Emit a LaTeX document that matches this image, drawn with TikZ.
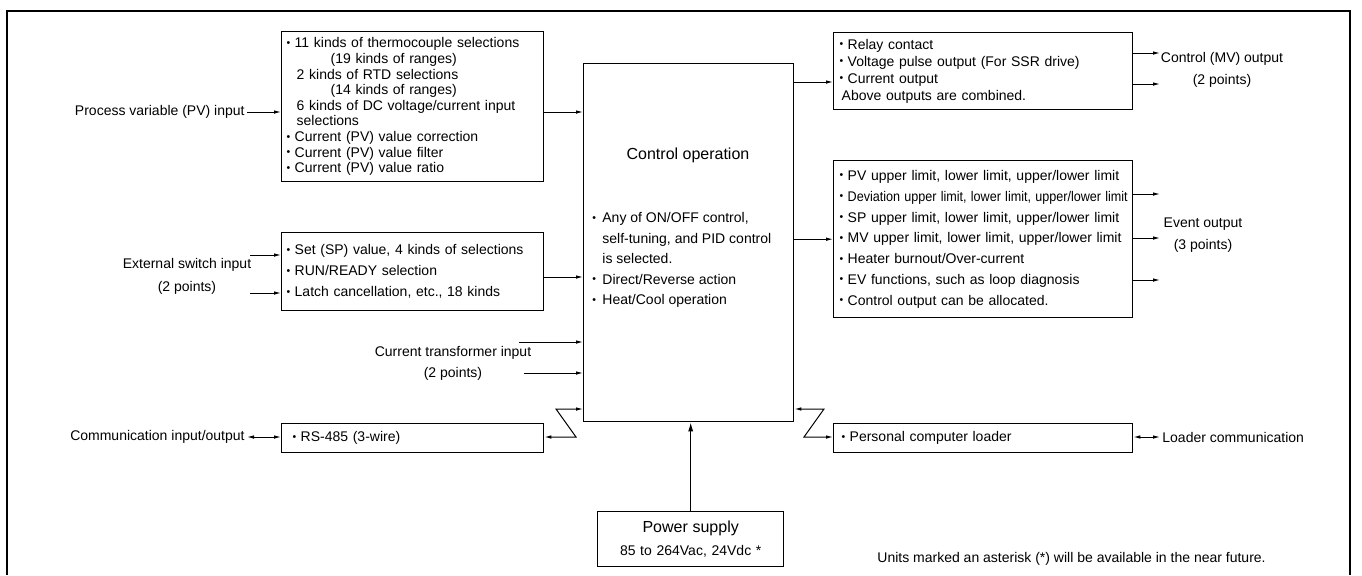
\documentclass[tikz,border=0pt]{standalone}
\usepackage{fontspec}
\usepackage{graphicx}
\setmainfont{Liberation Sans}
\usetikzlibrary{arrows.meta}
\newcommand{\itm}{\makebox[4pt][l]{\raisebox{0.2ex}{\scalebox{0.75}{\textbullet}}}}
\newcommand{\citm}{\makebox[5pt][l]{\raisebox{0.2ex}{\scalebox{0.75}{\textbullet}}}}
\begin{document}
\begin{tikzpicture}[x=0.5pt,y=-0.5pt,
	every node/.style={font=\fontsize{7}{8}\selectfont},
	blk/.style={draw,line width=0.7pt,anchor=north west,inner xsep=2.5pt,inner ysep=0pt,align=left},
	arr/.style={-{Latex[length=3.5pt,width=1.8pt]},line width=0.5pt},
	darr/.style={{Latex[length=3.5pt,width=1.8pt]}-{Latex[length=3.5pt,width=1.8pt]},line width=0.5pt}]
	\useasboundingbox (0,0) rectangle (1362,575);
	%\draw[very thin,color=gray] (0,0) grid[step=50] (1362,575);
	\draw[line width=0.6pt] (7,575) -- (7,11) -- (1350,11) -- (1350,575);
	% input side
	\node[blk,text width=126pt,minimum height=75pt,font=\fontsize{7}{7.8}\selectfont] (pvbox) at (281,31)
		{\itm 11 kinds of thermocouple selections\\
		\hspace*{22pt}(19 kinds of ranges)\\
		\hspace*{5pt}2 kinds of RTD selections\\
		\hspace*{22pt}(14 kinds of ranges)\\
		\hspace*{5pt}6 kinds of DC voltage/current input\\
		\hspace*{5pt}selections\\
		\itm Current (PV) value correction\\
		\itm Current (PV) value filter\\
		\itm Current (PV) value ratio};
	\node[blk,text width=126pt,minimum height=39pt,font=\fontsize{7}{10.5}\selectfont] (swbox) at (281,232)
		{\itm Set (SP) value, 4 kinds of selections\\
		\itm RUN/READY selection\\
		\itm Latch cancellation, etc., 18 kinds};
	\node[blk,inner xsep=5.5pt,text width=120pt,minimum height=14.5pt] (rsbox) at (281,423) {\itm RS-485 (3-wire)};
	\node[anchor=east,inner sep=1pt] (pvin) at (247,112) {Process variable (PV) input};
	\node[align=center,font=\fontsize{7}{11.5}\selectfont] (swin) at (187,276) {External switch input\\(2 points)};
	\node[align=center,font=\fontsize{7}{10.5}\selectfont] (ctin) at (453,363) {Current transformer input\\(2 points)};
	\node[anchor=east,inner sep=1pt] (comm) at (247,437) {Communication input/output};
	% control
	\node[draw,line width=0.7pt,anchor=north west,minimum width=105pt,minimum height=179pt,inner sep=0pt] (ctrl) at (583,63) {};
	\node[font=\fontsize{8}{9}\selectfont] (ctrltitle) at (688,155) {Control operation};
	\node[anchor=north west,align=left,inner sep=0pt,font=\fontsize{7}{10.25}\selectfont] (ctrltext) at (592,212)
		{\citm Any of ON/OFF control,\\
		\hspace*{5pt}self-tuning, and PID control\\
		\hspace*{5pt}is selected.\\
		\citm Direct/Reverse action\\
		\citm Heat/Cool operation};
	\node[blk,align=center,text width=88pt,minimum height=27.5pt,font=\fontsize{7}{11.5}\selectfont] (power) at (597,511)
		{{\fontsize{8}{11.5}\selectfont Power supply}\\85 to 264Vac, 24Vdc *};
	% output side
	\node[blk,inner xsep=3pt,text width=143.5pt,minimum height=38.5pt,font=\fontsize{7}{8.5}\selectfont] (relay) at (833,32)
		{\itm Relay contact\\
		\itm Voltage pulse output (For SSR drive)\\
		\itm Current output\\
		\hspace*{1pt}Above outputs are combined.};
	\node[blk,inner xsep=3pt,text width=143.5pt,minimum height=78.5pt,font=\fontsize{7}{10.4}\selectfont] (evbox) at (833,160)
		{\itm PV upper limit, lower limit, upper/lower limit\\
		\itm \scalebox{0.9}[1]{Deviation upper limit, lower limit, upper/lower limit}\\
		\itm SP upper limit, lower limit, upper/lower limit\\
		\itm MV upper limit, lower limit, upper/lower limit\\
		\itm Heater burnout/Over-current\\
		\itm EV functions, such as loop diagnosis\\
		\itm Control output can be allocated.};
	\node[blk,inner xsep=4pt,text width=141.5pt,minimum height=14.5pt] (pcbox) at (833,423) {\itm Personal computer loader};
	\node[align=center,font=\fontsize{7}{11}\selectfont] (mvout) at (1222,70) {Control (MV) output\\(2 points)};
	\node[align=center,font=\fontsize{7}{11}\selectfont] (evout) at (1203,235) {Event output\\(3 points)};
	\node[anchor=west,inner sep=1pt] (loader) at (1160,437) {Loader communication};
	\node[anchor=west,inner sep=0pt] (note) at (877,559) {Units marked an asterisk (*) will be available in the near future.};
	% connectors
	\coordinate (sw1) at (250,255);
	\coordinate (sw2) at (250,293);
	\coordinate (sw3) at (550,277);
	\coordinate (ct1) at (519,342);
	\coordinate (ct2) at (524,373);
	\coordinate (zl1) at (556,409);
	\coordinate (zl2) at (576,437);
	\coordinate (zr1) at (824,409);
	\coordinate (zr2) at (804,437);
	\coordinate (c2r) at (800,82);
	\draw[arr] (pvin.east) -- (pvbox.west |- pvin.east);
	\draw[arr] (pvbox.east |- pvin.east) -- (ctrl.west |- pvin.east);
	\draw[arr] (sw1) -- (swbox.west |- sw1);
	\draw[arr] (sw2) -- (swbox.west |- sw2);
	\draw[arr] (swbox.east |- sw3) -- (ctrl.west |- sw3);
	\draw[arr] (ct1) -- (ctrl.west |- ct1);
	\draw[arr] (ct2) -- (ctrl.west |- ct2);
	\draw[darr] (ctrl.west |- zl1) -- (zl1) -- (zl2) -- (rsbox.east |- zl2);
	\draw[darr] (comm.east) -- (rsbox.west |- comm.east);
	\draw[darr] (ctrl.east |- zr1) -- (zr1) -- (zr2) -- (pcbox.west |- zr2);
	\draw[darr] (pcbox.east |- loader.west) -- (loader.west);
	\draw[arr] (ctrl.east |- c2r) -- (relay.west |- c2r);
	\draw[arr] (ctrl.east |- evbox.west) -- (evbox.west);
	\draw[-{Latex[length=4.5pt,width=2.6pt]},line width=0.6pt] (power.north) -- (power.north |- ctrl.south);
	\foreach \i/\yy in {1/53,2/84} {
		\coordinate (mo\i) at (1160,\yy);
		\draw[arr] (relay.east |- mo\i) -- (mo\i);
	}
	\foreach \i/\yy in {1/194,2/238,3/280} {
		\coordinate (eo\i) at (1160,\yy);
		\draw[arr] (evbox.east |- eo\i) -- (eo\i);
	}
\end{tikzpicture}
\end{document}
